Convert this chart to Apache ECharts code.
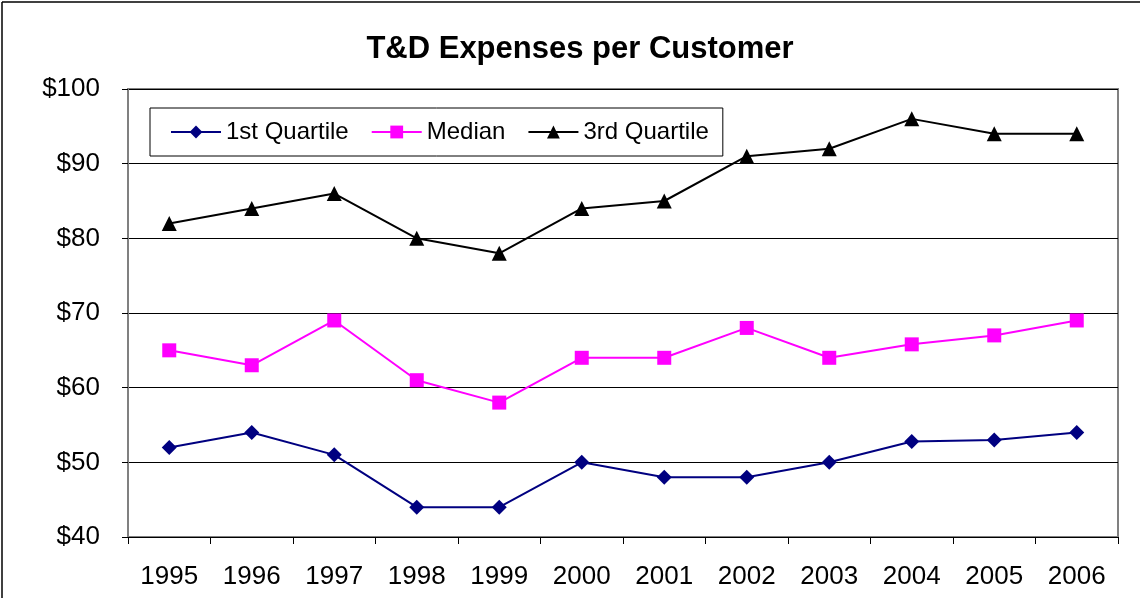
<!DOCTYPE html>
<html>
<head>
<meta charset="utf-8">
<script src="https://cdn.jsdelivr.net/npm/echarts@6/dist/echarts.min.js"></script>
<style>
  html, body { margin: 0; padding: 0; background: #fff; }
  #chart { width: 1140px; height: 598px; }
</style>
</head>
<body>
<div id="chart"></div>
<script>
var years = ['1995', '1996', '1997', '1998', '1999', '2000', '2001', '2002', '2003', '2004', '2005', '2006'];
var firstQuartile = [52, 54, 51, 44, 44, 50, 48, 48, 50, 52.8, 53, 54];
var median = [65, 63, 69, 61, 58, 64, 64, 68, 64, 65.8, 67, 69];
var thirdQuartile = [82, 84, 86, 80, 78, 84, 85, 91, 92, 96, 94, 94];
var yTicks = { min: 40, max: 100, step: 10 };

var font = 'Liberation Sans, Arial, sans-serif';

function lineSeries(name, data, color, symbol, size) {
    return {
        name: name,
        type: 'line',
        data: data,
        symbol: symbol,
        symbolSize: size,
        lineStyle: { color: color, width: 2 },
        itemStyle: { color: color },
        emphasis: { disabled: true },
        z: 3
    };
}

var option = {
    backgroundColor: '#fff',
    animation: false,
    title: {
        text: 'T&D Expenses per Customer',
        left: 575,
        top: 29,
        textAlign: 'center',
        textStyle: { fontFamily: font, fontSize: 31, fontWeight: 'bold', color: '#000' }
    },
    legend: {
        left: 150,
        top: 108,
        padding: [12, 14, 12, 20],
        itemGap: 22,
        itemWidth: 50,
        itemHeight: 16,
        borderColor: '#000',
        borderWidth: 1,
        textStyle: { fontFamily: font, fontSize: 24, color: '#000' },
        data: ['1st Quartile', 'Median', '3rd Quartile']
    },
    grid: {
        left: 128,
        right: 22,
        top: 89,
        bottom: 61,
        show: true,
        borderColor: '#808080',
        borderWidth: 2,
        backgroundColor: '#fff'
    },
    xAxis: {
        type: 'category',
        data: years,
        boundaryGap: true,
        axisLine: { lineStyle: { color: '#000', width: 1 } },
        axisTick: { show: true, inside: false, length: 7, alignWithLabel: false, lineStyle: { color: '#000' } },
        axisLabel: { fontFamily: font, fontSize: 26, color: '#000', margin: 27 }
    },
    yAxis: {
        type: 'value',
        min: yTicks.min,
        max: yTicks.max,
        interval: yTicks.step,
        axisLine: { show: true, lineStyle: { color: '#808080', width: 2 } },
        axisTick: { show: true, inside: false, length: 6, lineStyle: { color: '#000' } },
        axisLabel: { fontFamily: font, fontSize: 26, color: '#000', margin: 28, formatter: '${value}' },
        splitLine: { lineStyle: { color: '#000', width: 1 } }
    },
    graphic: [
        { type: 'line', shape: { x1: 2, y1: 2, x2: 1140, y2: 2 }, style: { stroke: '#000', lineWidth: 1.5 } },
        { type: 'line', shape: { x1: 2, y1: 2, x2: 2, y2: 598 }, style: { stroke: '#000', lineWidth: 1.5 } }
    ],
    series: [
        lineSeries('1st Quartile', firstQuartile, '#000080', 'diamond', 15),
        lineSeries('Median', median, '#FF00FF', 'rect', 14),
        lineSeries('3rd Quartile', thirdQuartile, '#000000', 'triangle', 15)
    ]
};

var chart = echarts.init(document.getElementById('chart'));
chart.setOption(option);
</script>
</body>
</html>
